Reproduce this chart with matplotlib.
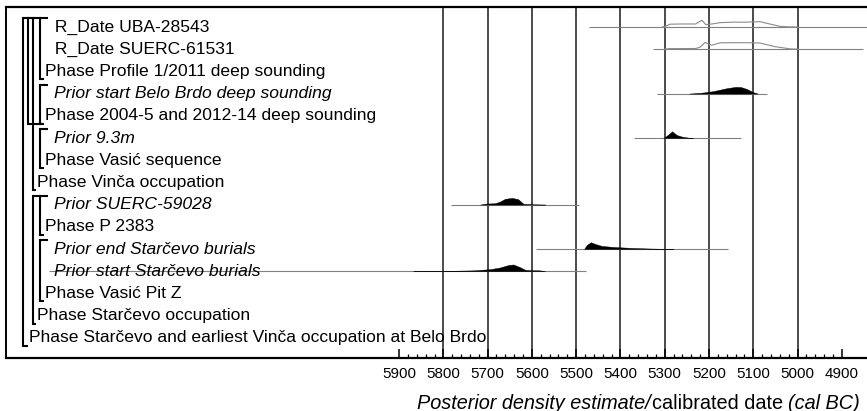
import matplotlib
matplotlib.use("Agg")
import numpy as np
import matplotlib.pyplot as plt
from matplotlib.ticker import FixedLocator
from matplotlib.transforms import blended_transform_factory

plt.rcParams['font.family'] = ['Liberation Sans', 'DejaVu Sans']

# ---------------- data ----------------
labels = [
    " R_Date UBA-28543",
    " R_Date SUERC-61531",
    "Phase Profile 1/2011 deep sounding",
    "Prior start Belo Brdo deep sounding",
    "Phase 2004-5 and 2012-14 deep sounding",
    "Prior 9.3m",
    "Phase Vasić sequence",
    "Phase Vinča occupation",
    "Prior SUERC-59028",
    "Phase P 2383",
    "Prior end Starčevo burials",
    "Prior start Starčevo burials",
    "Phase Vasić Pit Z",
    "Phase Starčevo occupation",
    "Phase Starčevo and earliest Vinča occupation at Belo Brdo",
]
label_italic = [False, False, False, True, False, True, False, False,
                True, False, True, True, False, False, False]
label_level = [3, 3, 2, 3, 2, 3, 2, 1, 3, 2, 3, 3, 2, 1, 0]

# brackets: (first row, last row, bracket column, label level of foot)
brackets = [(0, 2, 3, 2), (3, 4, 3, 2), (5, 6, 3, 2), (0, 4, 1, 2), (0, 7, 2, 1),
            (8, 9, 3, 2), (10, 12, 3, 2), (8, 13, 2, 1), (0, 14, 0, 0)]

# ranges (cal BC) of each plotted row
range_rows = [0, 1, 3, 5, 8, 10, 11]
range_from = [5471, 5327, 5318, 5369, 5783, 5591, 6690]
range_to = [4800, 4851, 5069, 5128, 5493, 5158, 5478]

# unmodelled likelihoods (outlines)
uba_years = [5305, 5295, 5288, 5260, 5230, 5216, 5207, 5190, 5175, 5145, 5115, 5085, 5055, 5040, 5020, 5000]
uba_dens = [0, 0.2, 0.42, 0.45, 0.45, 1.0, 0.35, 0.48, 0.65, 0.72, 0.72, 0.8, 0.33, 0.1, 0.02, 0]
suerc615_years = [5300, 5290, 5230, 5220, 5209, 5194, 5175, 5145, 5115, 5085, 5051, 5017, 5000]
suerc615_dens = [0, 0.08, 0.1, 0.3, 1.0, 0.6, 0.95, 0.97, 0.97, 0.92, 0.38, 0.05, 0]

# posterior densities (filled)
belo_years = [5245, 5220, 5190, 5160, 5140, 5128, 5115, 5100, 5090]
belo_dens = [0, 0.1, 0.37, 0.8, 1.0, 0.98, 0.7, 0.2, 0]
p93_years = [5303, 5294, 5283, 5273, 5261, 5247, 5236]
p93_dens = [0, 0.4, 1.0, 0.45, 0.2, 0.05, 0]
suerc590_years = [5717, 5702, 5683, 5672, 5661, 5645, 5631, 5619, 5597, 5570]
suerc590_dens = [0, 0.15, 0.2, 0.45, 0.85, 1.0, 0.8, 0.1, 0.03, 0]
endst_years = [5482, 5476, 5467, 5457, 5442, 5416, 5378, 5340, 5303, 5280]
endst_dens = [0, 0.6, 1.0, 0.75, 0.45, 0.3, 0.17, 0.08, 0.02, 0]
startst_years = [5868, 5792, 5732, 5694, 5672, 5653, 5642, 5627, 5615, 5604, 5582, 5570]
startst_dens = [0, 0.04, 0.12, 0.3, 0.55, 0.92, 1.0, 0.6, 0.2, 0.15, 0.12, 0]

outline_rows = [0, 1]
outline_years = [uba_years, suerc615_years]
outline_dens = [uba_dens, suerc615_dens]
filled_rows = [3, 5, 8, 10, 11]
filled_years = [belo_years, p93_years, suerc590_years, endst_years, startst_years]
filled_dens = [belo_dens, p93_dens, suerc590_dens, endst_dens, startst_dens]

tick_years = [5900, 5800, 5700, 5600, 5500, 5400, 5300, 5200, 5100, 5000, 4900]
tick_labels = [str(t) for t in tick_years]
grid_years = [5800, 5700, 5600, 5500, 5400, 5300, 5200, 5100, 5000]

# ---------------- layout ----------------
W, H = 867, 411
ax_l, ax_r, ax_t, ax_b = 6, 867, 7.5, 357.5
fig = plt.figure(figsize=(W / 100, H / 100), dpi=100)
ax = fig.add_axes([ax_l / W, 1 - ax_b / H, (ax_r - ax_l) / W, (ax_b - ax_t) / H])
ax.set_xlim(6788, 4843)
ax.set_ylim(14.89, -0.878)

def fx(px):
    return (px - ax_l) / (ax_r - ax_l)

row_px = 22.2
peak = 6.7 / row_px

for yr in grid_years:
    ax.axvline(yr, color='#1a1a1a', lw=1.1, zorder=1)

for r, a, b in zip(range_rows, range_from, range_to):
    ax.hlines(r, a, b, color='#808080', lw=0.8, zorder=2)

for r, ys, ds in zip(outline_rows, outline_years, outline_dens):
    ax.plot(ys, r - np.array(ds) * peak, color='#8a8a8a', lw=0.8, zorder=3)

for r, ys, ds in zip(filled_rows, filled_years, filled_dens):
    ax.fill_between(ys, r, r - np.array(ds) * peak, color='black', lw=0.3, zorder=3)

blend = blended_transform_factory(ax.transAxes, ax.transData)
text_px = {0: 29, 1: 37, 2: 45, 3: 54}
brk_px = {0: 23, 1: 28, 2: 33, 3: 40}

for i, (lab, it, lv) in enumerate(zip(labels, label_italic, label_level)):
    ax.text(fx(text_px[lv] - (4 if lab.startswith(' ') else 0)), i + 0.21, lab,
            transform=blend, va='baseline', ha='left', fontsize=12.6,
            style='italic' if it else 'normal', color='black', zorder=4)

for first, last, col, lv in brackets:
    xb = brk_px[col]
    top = first - 8.5 / row_px
    bot = last + 8 / row_px
    ax.plot([fx(xb), fx(xb)], [top, bot], transform=blend, color='black', lw=1.5,
            clip_on=False, solid_capstyle='projecting', zorder=5)
    ax.plot([fx(xb), fx(xb + 8)], [top, top], transform=blend, color='black', lw=1.5,
            clip_on=False, solid_capstyle='butt', zorder=5)
    ax.plot([fx(xb), fx(text_px[lv] - 1)], [bot, bot], transform=blend, color='black', lw=1.5,
            clip_on=False, solid_capstyle='butt', zorder=5)

# axes styling
ax.xaxis.set_major_locator(FixedLocator(tick_years))
ax.set_xticklabels(tick_labels)
minor = [y for y in np.arange(5880, 4900, -20) if y % 100 != 0]
ax.xaxis.set_minor_locator(FixedLocator(minor))
ax.tick_params(axis='x', which='major', direction='in', length=6.5, width=1.1, pad=7,
               labelsize=10.9, colors='black')
ax.tick_params(axis='x', which='minor', direction='in', length=3, width=0.9)
ax.set_yticks([])
ax.spines['right'].set_visible(False)
ax.spines['top'].set_linewidth(1.6)
ax.spines['bottom'].set_linewidth(1.6)
ax.spines['left'].set_linewidth(1.4)

# x label with mixed styles
fig.canvas.draw()
rend = fig.canvas.get_renderer()
fs = 14.3
yb = 2.5 / H
t1 = fig.text(417 / W, yb, "Posterior density estimate/", style='italic', fontsize=fs, va='baseline')
bb1 = t1.get_window_extent(rend)
t2 = fig.text(bb1.x1 / W + 1 / W, yb, "calibrated date", fontsize=fs, va='baseline')
bb2 = t2.get_window_extent(rend)
t3 = fig.text(bb2.x1 / W + 5.5 / W, yb, "(cal BC)", style='italic', fontsize=fs, va='baseline')

fig.savefig('out.png', dpi=100)
